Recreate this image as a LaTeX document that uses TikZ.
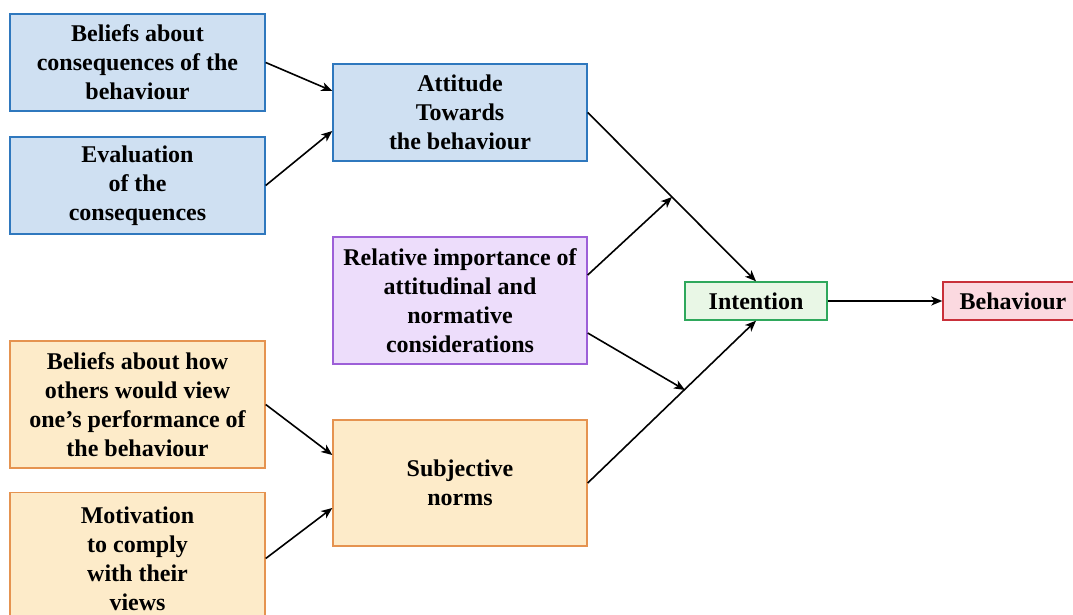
\documentclass[tikz,border=0pt]{standalone}
\usepackage{fontspec}
\setmainfont{Liberation Serif}
\usetikzlibrary{arrows.meta}
\definecolor{bluefill}{HTML}{CFE0F2}
\definecolor{blueline}{HTML}{2F78BE}
\definecolor{purpfill}{HTML}{EDDDFB}
\definecolor{purpline}{HTML}{9D5FD8}
\definecolor{orfill}{HTML}{FDEBC9}
\definecolor{orline}{HTML}{E59350}
\definecolor{grfill}{HTML}{E9F7E6}
\definecolor{grline}{HTML}{2FA85C}
\definecolor{rdfill}{HTML}{FBD9E0}
\definecolor{rdline}{HTML}{C9303A}
\tikzset{
  box/.style={draw, line width=1.4pt, align=center, inner sep=2pt,
    font=\fontsize{24pt}{29pt}\selectfont\bfseries},
  bluebox/.style={box, fill=bluefill, draw=blueline},
  purpbox/.style={box, fill=purpfill, draw=purpline},
  orbox/.style={box, fill=orfill, draw=orline},
  grbox/.style={box, fill=grfill, draw=grline},
  rdbox/.style={box, fill=rdfill, draw=rdline},
  arr/.style={line width=1.6pt, -{Stealth[length=11pt,width=9pt,inset=3pt]}}
}
\begin{document}
\begin{tikzpicture}[x=1pt,y=-1pt]
\useasboundingbox (0,0) rectangle (1073,615);
\clip (0,0) rectangle (1073,615);
\node[bluebox, minimum width=255pt, minimum height=97pt] (b1) at (137.5,62.5) {Beliefs about\\consequences of the\\behaviour};
\node[bluebox, minimum width=255pt, minimum height=97pt] (b2) at (137.5,185.5) {Evaluation\\of the\\consequences};
\node[bluebox, minimum width=254pt, minimum height=97pt] (att) at (460,112.5) {Attitude\\Towards\\the behaviour};
\node[purpbox, minimum width=254pt, minimum height=127pt] (rel) at (460,300.5) {Relative importance of\\attitudinal and\\normative\\considerations};
\node[orbox, minimum width=255pt, minimum height=127pt] (oth) at (137.5,404.5) {Beliefs about how\\others would view\\one’s performance of\\the behaviour};
\node[orbox, minimum width=255pt, minimum height=132pt] (mot) at (137.5,558.5) {Motivation\\to comply\\with their\\views};
\node[orbox, minimum width=254pt, minimum height=126pt] (subj) at (460,483) {Subjective\\norms};
\node[grbox, minimum width=142pt, minimum height=38pt] (int) at (756,301) {Intention};
\node[rdbox, minimum width=140pt, minimum height=38pt] (beh) at (1013,301) {Behaviour};
\coordinate (j1) at (672,197);
\coordinate (j2) at (685,390);
\draw[arr] (b1.east) -- ([yshift=21.5pt]att.west);
\draw[arr] (b2.east) -- ([yshift=-18.5pt]att.west);
\draw[arr] (oth.east) -- ([yshift=28pt]subj.west);
\draw[arr] (mot.east) -- ([yshift=-25pt]subj.west);
\draw[arr] (att.east) -- (int.north);
\draw[arr] (subj.east) -- (int.south);
\draw[arr] ([yshift=25.5pt]rel.east) -- (j1);
\draw[arr] ([yshift=-32.5pt]rel.east) -- (j2);
\draw[arr] (int.east) -- (beh.west);
\end{tikzpicture}
\end{document}
